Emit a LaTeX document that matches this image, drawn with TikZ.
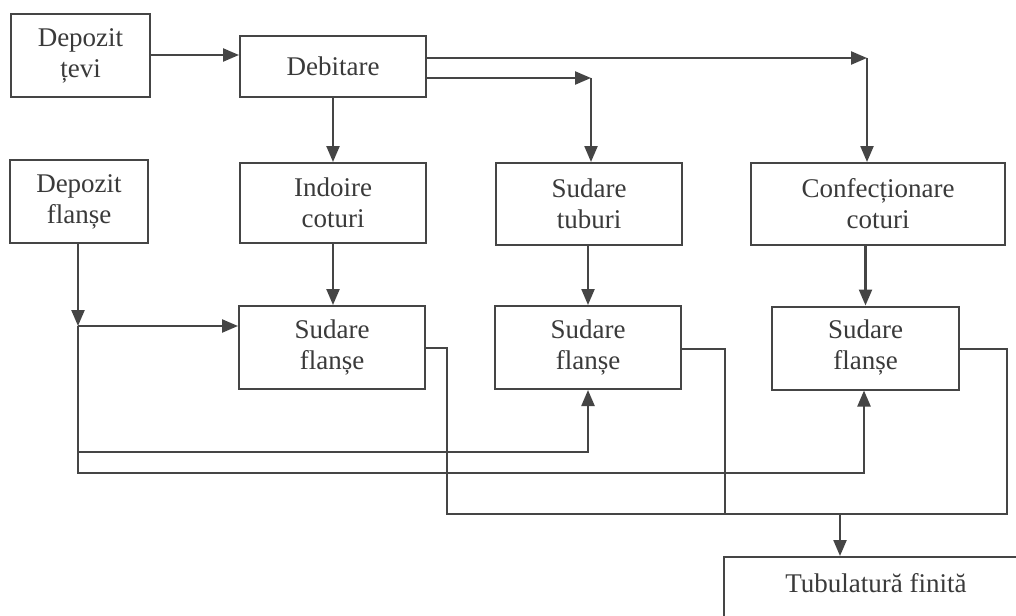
\documentclass[tikz,border=0pt]{standalone}
\usepackage{fontspec}
\setmainfont{Liberation Serif}
\usetikzlibrary{arrows.meta,calc}
\definecolor{ink}{HTML}{454545}
\definecolor{txt}{HTML}{3A3A3A}
\begin{document}
\begin{tikzpicture}[x=1pt,y=-1pt,
  box/.style={draw=ink, line width=2pt, rectangle, inner sep=0pt, align=center,
    text=txt, font=\fontsize{27}{31}\selectfont},
  label/.style={inner sep=0pt, text=txt, font=\fontsize{27}{31}\selectfont},
  flow/.style={draw=ink, line width=2.3pt, -{Triangle[length=16pt,width=13pt]}},
  link/.style={draw=ink, line width=1.9pt}]
\useasboundingbox[fill=white] (0,0) rectangle (1016,615);

% process boxes
\node[box, minimum width=139pt, minimum height=83pt] (dt)  at (80.5,55.5) {Depozit\\țevi};
\node[box, minimum width=186pt, minimum height=61pt] (deb) at (333,66.5)  {Debitare};
\node[box, minimum width=138pt, minimum height=83pt] (df)  at (79,201.5)  {Depozit\\flanșe};
\node[box, minimum width=186pt, minimum height=80pt] (ind) at (333,203)   {Indoire\\coturi};
\node[box, minimum width=186pt, minimum height=82pt] (st)  at (589,204)   {Sudare\\tuburi};
\node[box, minimum width=254pt, minimum height=82pt] (cc)  at (878,204)   {Confecționare\\coturi};
\node[box, minimum width=186pt, minimum height=83pt] (sf1) at (332,347.5) {Sudare\\flanșe};
\node[box, minimum width=186pt, minimum height=83pt] (sf2) at (588,347.5) {Sudare\\flanșe};
\node[box, minimum width=187pt, minimum height=83pt] (sf3) at (865.5,348) {Sudare\\flanșe};
\node[box, minimum width=304pt, minimum height=70pt, anchor=north] (tf) at (876,556) {};
\node[label] (tft) at (876,583) {Tubulatură finită};

% pipe stock to cutting
\draw[flow] (dt.east |- 0,55) -- (deb.west |- 0,55);

% cutting to the three branches
\coordinate (k1) at (867,58);
\coordinate (k2) at (591,78);
\draw[flow] (deb.east |- k1) -- (k1);
\draw[flow] (k1) -- (k1 |- cc.north);
\draw[flow] (deb.east |- k2) -- (k2);
\draw[flow] (k2) -- (k2 |- st.north);
\draw[flow] (deb.south) -- (ind.north);

% branches to flange welding
\draw[flow] (ind.south) -- (ind.south |- sf1.north);
\draw[flow] (st.south -| sf2.north) -- (sf2.north);
\draw[flow] (cc.south -| sf3.north) -- (sf3.north);

% flange stock distribution
\coordinate (j) at (78,326);
\draw[flow] (df.south -| j) -- (j);
\draw[flow] (j) -- (j -| sf1.west);
\coordinate (b2) at (588,452);
\coordinate (b3) at (864,473);
\draw[flow] (j) |- (b2) -- (b2 |- sf2.south);
\draw[flow] (j) |- (b3) -- (b3 |- sf3.south);

% collector to finished tubing
\coordinate (c1) at (447,514);
\coordinate (c2) at (725,514);
\coordinate (c3) at (1007,514);
\coordinate (m)  at (840,514);
\draw[link] (sf1.east |- 0,348) -| (c1) -- (c3) |- (sf3.east |- 0,349);
\draw[link] (sf2.east |- 0,349) -| (c2);
\draw[flow] (m) -- (m |- tf.north);
\end{tikzpicture}
\end{document}
